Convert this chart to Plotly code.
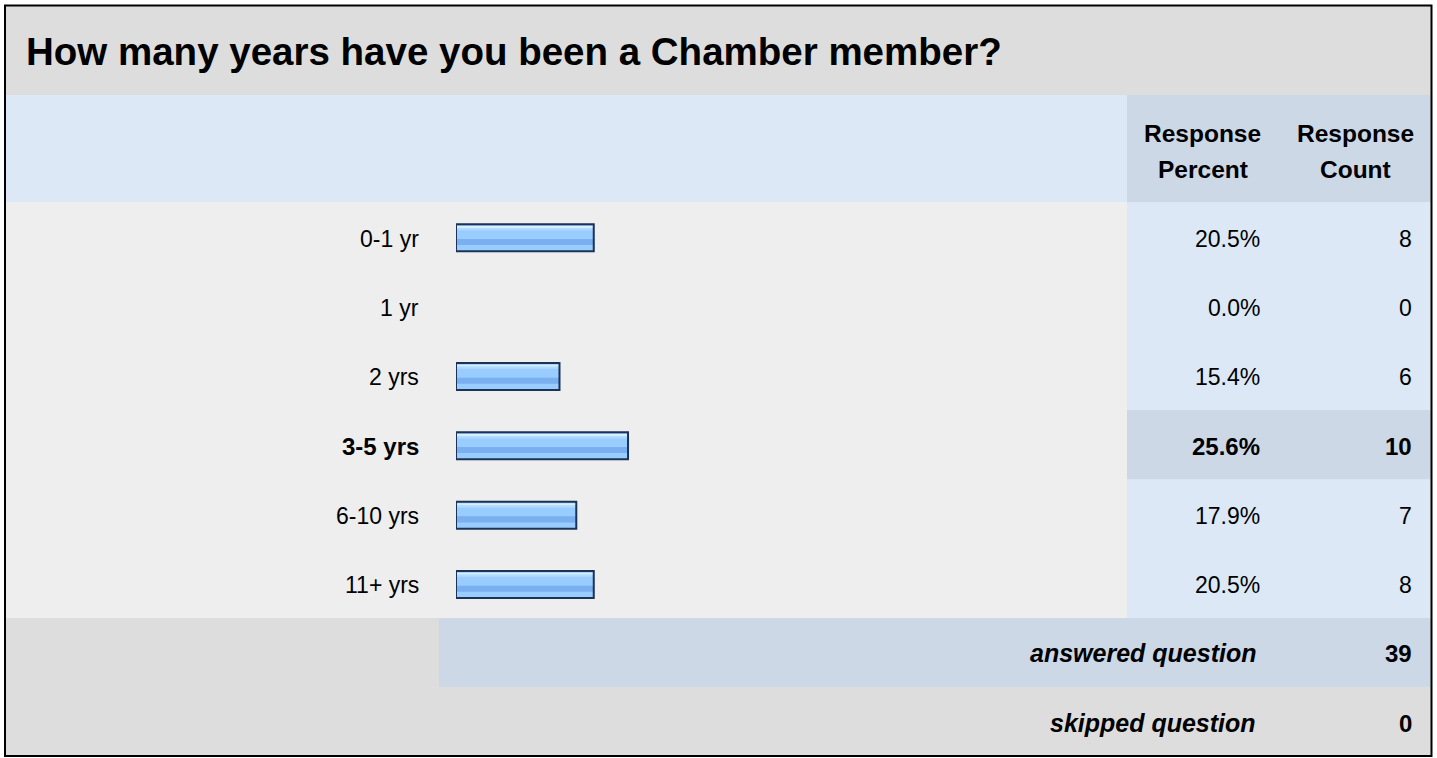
import plotly.graph_objects as go

# survey question data
question = "How many years have you been a Chamber member?"
categories = ["0-1 yr", "1 yr", "2 yrs", "3-5 yrs", "6-10 yrs", "11+ yrs"]
percents = [20.5, 0.0, 15.4, 25.6, 17.9, 20.5]
counts = [8, 0, 6, 10, 7, 8]
header_percent = ["Response", "Percent"]
header_count = ["Response", "Count"]
footer_labels = ["answered question", "skipped question"]
footer_values = [39, 0]

W, H = 1437, 758
FONT = "Liberation Sans, Arial, sans-serif"
ROW_TOP, ROW_BOT = 202, 618
ROW_H = (ROW_BOT - ROW_TOP) / len(categories)
hi = counts.index(max(counts))


def px(x):
    return x / W


def py(y):
    return 1 - y / H


def rect(x0, y0, x1, y1, color):
    return dict(type="rect", xref="paper", yref="paper", layer="below",
                x0=px(x0), x1=px(x1), y0=py(y1), y1=py(y0),
                fillcolor=color, line=dict(width=0))


shapes = [
    rect(5, 5, 1431, 95, "#dddddd"),
    rect(5, 95, 1127, 202, "#dce8f5"),
    rect(1127, 95, 1431, 202, "#ccd8e6"),
    rect(5, ROW_TOP, 1127, ROW_BOT, "#eeeeee"),
    rect(1127, ROW_TOP, 1431, ROW_BOT, "#dce8f5"),
    rect(1127, ROW_TOP + hi * ROW_H, 1431, ROW_TOP + (hi + 1) * ROW_H, "#ccd8e6"),
    rect(5, 618, 439, 687, "#dddddd"),
    rect(439, 618, 1431, 687, "#ccd8e6"),
    rect(5, 687, 1431, 757, "#dddddd"),
    dict(type="rect", xref="paper", yref="paper", layer="above",
         x0=px(5), x1=px(1431.5), y0=py(756), y1=py(5.5),
         line=dict(color="#000000", width=2)),
]

fig = go.Figure()

# glossy bar: base fill + highlight bands, outline on top
bands = [
    (-0.178, 0.389, "#99ccff"),
    (-0.154, 0.030, "#d6ecff"),
    (-0.124, 0.030, "#b4d9ff"),
    (0.034, 0.087, "#7aaff0"),
]
for off, w, col in bands:
    fig.add_trace(go.Bar(y=categories, x=percents, orientation="h",
                         offset=off, width=w, marker=dict(color=col, line=dict(width=0)),
                         hoverinfo="skip", showlegend=False))
fig.add_trace(go.Bar(y=categories, x=percents, orientation="h",
                     offset=-0.178, width=0.389,
                     marker=dict(color="rgba(0,0,0,0)",
                                 line=dict(color="#1b3356",
                                           width=[2 if v > 0 else 0 for v in percents])),
                     hoverinfo="skip", showlegend=False))

ann = []
ann.append(dict(text=question, x=px(24), y=py(52), xref="paper", yref="paper",
                xanchor="left", yanchor="middle", showarrow=False,
                font=dict(family=FONT, size=38.5, color="#000000", weight="bold")))

for cx, lines in [(1202.5, header_percent), (1355, header_count)]:
    for yy, t in zip([133.5, 170], lines):
        ann.append(dict(text=t, x=px(cx), y=py(yy), xref="paper", yref="paper",
                        xanchor="center", yanchor="middle", showarrow=False,
                        font=dict(family=FONT, size=24.5, color="#000000", weight="bold")))

for i, cat in enumerate(categories):
    bold = "bold" if i == hi else "normal"
    size = 24 if i == hi else 23
    for xx, t in [(421, cat), (1262, "%.1f%%" % percents[i]), (1414, str(counts[i]))]:
        ann.append(dict(text=t, x=px(xx), y=cat, xref="paper", yref="y", yshift=-2,
                        xanchor="right", yanchor="middle", showarrow=False,
                        font=dict(family=FONT, size=size, color="#000000", weight=bold)))

for yy, lab, val in zip([653, 723], footer_labels, footer_values):
    ann.append(dict(text=lab, x=px(1258), y=py(yy), xref="paper", yref="paper",
                    xanchor="right", yanchor="middle", showarrow=False,
                    font=dict(family=FONT, size=25, color="#000000", weight="bold", style="italic")))
    ann.append(dict(text=str(val), x=px(1414), y=py(yy), xref="paper", yref="paper",
                    xanchor="right", yanchor="middle", showarrow=False,
                    font=dict(family=FONT, size=24, color="#000000", weight="bold")))

fig.update_layout(
    width=W, height=H, margin=dict(l=0, r=0, t=0, b=0),
    paper_bgcolor="#ffffff", plot_bgcolor="rgba(0,0,0,0)",
    barmode="overlay", shapes=shapes, annotations=ann,
    xaxis=dict(domain=[px(456), px(1128)], range=[0, 100], visible=False, fixedrange=True),
    yaxis=dict(domain=[py(ROW_BOT), py(ROW_TOP)], range=[len(categories) - 0.5, -0.5],
               type="category", categoryorder="array", categoryarray=categories,
               visible=False, fixedrange=True),
)

fig.write_html("out.html", config={"displayModeBar": False},
               post_script="document.body.style.margin='0';")
